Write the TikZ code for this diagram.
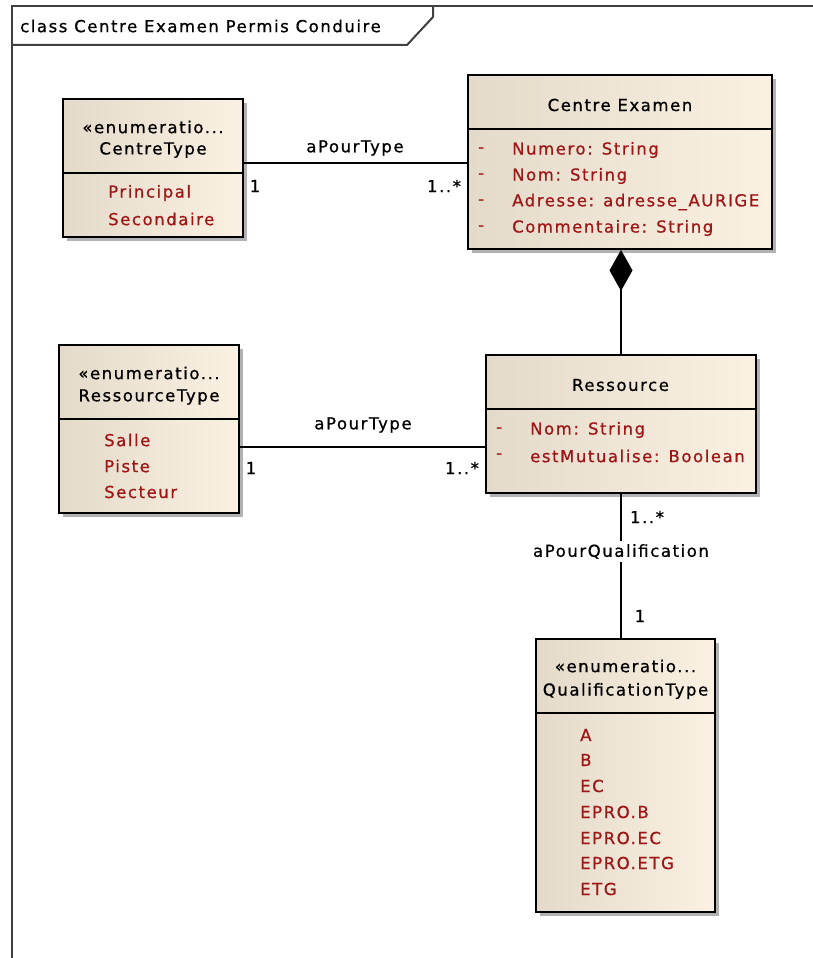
\documentclass[tikz,border=0pt]{standalone}
\usepackage{fontspec}
\setmainfont{DejaVu Sans}[LetterSpace=9.5,FakeBold=0.8]
\usetikzlibrary{shadows,arrows.meta}
\definecolor{ered}{RGB}{158,22,22}
\definecolor{boxleft}{RGB}{228,218,202}
\definecolor{boxright}{RGB}{251,241,226}
\definecolor{framegray}{RGB}{64,64,64}
\tikzset{
  umlbox/.style={draw=black, line width=1.8pt, left color=boxleft, right color=boxright,
    drop shadow={shadow xshift=4pt, shadow yshift=-4pt, fill=black!30, opacity=1},
    inner sep=0pt},
  divider/.style={draw=black, line width=1.6pt},
  conn/.style={draw=black, line width=1.6pt},
  txt/.style={inner sep=0pt, anchor=center, text=black},
  attr/.style={inner sep=0pt, anchor=west, text=ered},
  lbl/.style={inner sep=0pt, anchor=center, text=black},
  framestyle/.style={draw=framegray, line width=2pt},
}
\begin{document}
\begin{tikzpicture}[x=1pt,y=-1pt,font=\fontsize{16.5}{19}\selectfont]
\useasboundingbox (0,0) rectangle (813,958);
% frame
\draw[framestyle] (12,970) -- (12,6.5) -- (830,6.5);
\draw[framestyle] (12,45) -- (407,45) -- (433,17) -- (433,6.5);
\node[lbl, anchor=west] (framelbl) at (20,26) {class Centre Examen Permis Conduire};

% boxes
\node[umlbox, minimum width=180pt, minimum height=138pt] (ct) at (153,168) {};
\node[umlbox, minimum width=304pt, minimum height=174pt] (ce) at (620,162) {};
\node[umlbox, minimum width=180pt, minimum height=168pt] (rt) at (149,429) {};
\node[umlbox, minimum width=270pt, minimum height=138pt] (rs) at (621,424) {};
\node[umlbox, minimum width=179pt, minimum height=273pt] (qt) at (625.5,775.5) {};

% dividers
\draw[divider] (ct.west |- 0,173) -- (ct.east |- 0,173);
\draw[divider] (ce.west |- 0,129) -- (ce.east |- 0,129);
\draw[divider] (rt.west |- 0,419) -- (rt.east |- 0,419);
\draw[divider] (rs.west |- 0,409) -- (rs.east |- 0,409);
\draw[divider] (qt.west |- 0,713) -- (qt.east |- 0,713);

% CentreType
\node[txt] (ctst) at (153,127) {«enumeratio...};
\node[txt] (ctnm) at (153,150) {CentreType};
\node[attr] (ct1) at (108,193) {Principal};
\node[attr] (ct2) at (108,219) {Secondaire};

% Centre Examen
\node[txt] (cenm) at (620,105) {Centre Examen};
\foreach \y/\t [count=\i] in {150/{Numero: String},176/{Nom: String},202/{Adresse: adresse\_AURIGE},228/{Commentaire: String}}{
  \node[attr] (ced\i) at (478,\y) {-};
  \node[attr] (cea\i) at (512,\y) {\t};
}

% RessourceType
\node[txt] (rtst) at (149,373) {«enumeratio...};
\node[txt] (rtnm) at (149,397) {RessourceType};
\node[attr] (rt1) at (104,440) {Salle};
\node[attr] (rt2) at (104,466) {Piste};
\node[attr] (rt3) at (104,492) {Secteur};

% Ressource
\node[txt] (rsnm) at (620.5,385) {Ressource};
\foreach \y/\t [count=\i] in {430/{Nom: String},456/{estMutualise: Boolean}}{
  \node[attr] (rsd\i) at (496,\y) {-};
  \node[attr] (rsa\i) at (530,\y) {\t};
}

% QualificationType
\node[txt] (qtst) at (625.5,666) {«enumeratio...};
\node[txt] (qtnm) at (625.5,691) {QualificationType};
\foreach \y/\t [count=\i] in {735/A,760/B,786/EC,812/EPRO.B,838/EPRO.EC,863/EPRO.ETG,889/ETG}{
  \node[attr] (qta\i) at (580,\y) {\t};
}

% connectors
\draw[conn] ([yshift=5pt]ct.east) -- ([yshift=5pt]ct.east -| ce.west);
\node[lbl] (l1) at (355,148) {aPourType};
\node[lbl] (m1a) at (255,186) {1};
\node[lbl] (m1b) at (444,186) {1..*};

\draw[conn] ([yshift=-18pt]rt.east) -- ([yshift=-18pt]rt.east -| rs.west);
\node[lbl] (l2) at (363,425) {aPourType};
\node[lbl] (m2a) at (251,468) {1};
\node[lbl] (m2b) at (462,468) {1..*};

\draw[conn, {Diamond[length=41pt,width=23pt]}-] (rs.north |- ce.south) -- (rs.north);

\draw[conn] (rs.south) -- (rs.south |- qt.north)
  node[lbl, pos=0.4, fill=white, inner sep=3pt] (l3) {aPourQualification};
\node[lbl] (m3a) at (647,517) {1..*};
\node[lbl] (m3b) at (640,616) {1};
\end{tikzpicture}
\end{document}
